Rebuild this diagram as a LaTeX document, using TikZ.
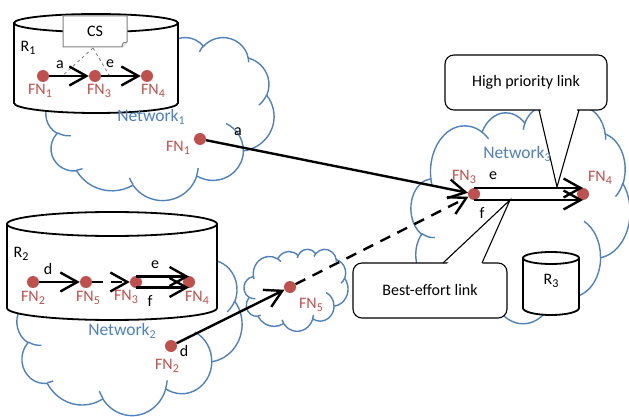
\documentclass[tikz,border=0pt]{standalone}
\usepackage{fontspec}
\setmainfont{Carlito}
\usetikzlibrary{arrows.meta,calc}
\definecolor{fnred}{HTML}{C0504D}
\definecolor{netblue}{HTML}{4F81BD}
% arc of an Office-style cloud: x radius, y radius, visual start angle, sweep
\newcommand\ooarc[4]{\pgfextra{%
  \pgfmathparse{atan2((#1)*sin(#3),(#2)*cos(#3))}\global\let\ooa\pgfmathresult
  \pgfmathparse{atan2((#1)*sin(#3+#4),(#2)*cos(#3+#4))}\global\let\oob\pgfmathresult
  \pgfmathparse{\oob<\ooa ? \oob+360 : \oob}\global\let\oob\pgfmathresult}%
  arc[start angle=\ooa, end angle=\oob, x radius=#1, y radius=#2]}
% #1 name, #2 left, #3 top, #4 width, #5 height
\newcommand\oocloud[5]{%
  \pgfmathsetmacro\oosx{#4/432}\pgfmathsetmacro\oosy{#5/432}%
  \begin{scope}[shift={(#2,#3)}, x=\oosx pt, y=-\oosy pt]
  \draw[netline, fill=white] (39.00,143.70)
    \ooarc{67.53}{91.90}{-190.48748}{123.78053}
    \ooarc{53.33}{72.67}{-144.10238}{89.94523}
    \ooarc{43.65}{59.45}{-145.80792}{99.72302}
    \ooarc{48.57}{65.95}{-130.98607}{117.24173}
    \ooarc{53.33}{72.73}{-78.70888}{109.02692}
    \ooarc{67.75}{92.20}{-46.26725}{130.269}
    \ooarc{57.85}{78.67}{0.62502}{114.03333}
    \ooarc{67.52}{92.15}{22.4516}{115.17255}
    \ooarc{77.20}{105.43}{66.24263}{75.71102}
    \ooarc{43.60}{59.18}{-274.94208}{146.73557}
    \ooarc{43.45}{59.45}{-246.8285}{152.51885} -- cycle;
  \draw[netline] (46.93,261.77) \ooarc{43.45}{59.45}{86.742}{26.4295}
    (69.28,348.99) \ooarc{43.60}{59.18}{73.61047}{11.44747}
    (164.78,390.90) \ooarc{67.52}{92.15}{137.62415}{14.0811}
    (288.27,347.51) \ooarc{67.52}{92.15}{6.45327}{15.99835}
    (341.29,229.54) \ooarc{57.85}{78.67}{-70.29235}{70.91737}
    (417.98,153.54) \ooarc{53.33}{72.73}{30.31803}{27.7515}
    (383.24,54.26) \ooarc{48.57}{65.95}{-13.74433}{14.8589}
    (290.78,39.52) \ooarc{48.57}{65.95}{-149.18145}{18.19537}
    (221.41,47.20) \ooarc{43.65}{59.45}{-163.49427}{17.68635}
    (140.00,51.92) \ooarc{67.53}{91.90}{-66.70695}{12.31935}
    (41.27,157.89) \ooarc{67.53}{91.90}{157.65435}{11.85817};
  \coordinate (#1) at (216,216);
  \end{scope}}
\newcommand\sub[1]{{\fontsize{12}{12}\selectfont\raisebox{-3.5pt}{#1}}}
\begin{document}
\begin{tikzpicture}[x=1pt,y=-1pt,
  every node/.style={font=\fontsize{16}{19}\selectfont},
  netline/.style={draw=netblue, line width=1.4pt},
  dot/.style={circle, fill=fnred, inner sep=0pt, minimum size=12pt},
  fnlab/.style={text=fnred, inner sep=0pt},
  netlab/.style={text=netblue, inner sep=0pt, font=\fontsize{17.5}{19}\selectfont},
  plainlab/.style={inner sep=0pt},
  cylline/.style={line width=1.8pt, fill=white},
  link/.style={line width=2.4pt, -{Straight Barb[length=17pt,width=19pt]}},
  dlink/.style={link, dash pattern=on 11pt off 8pt},
  callbox/.style={draw, line width=1.1pt, fill=white, rounded corners=9pt, inner sep=0pt},
  callptr/.style={line width=1.1pt},
  csbox/.style={draw=gray, line width=1pt, fill=white},
  csline/.style={draw=gray, line width=0.8pt, dashed}
]
\useasboundingbox (0,0) rectangle (629,417);

% clouds
\oocloud{net1}{46}{37}{228}{163}
\oocloud{net2}{17}{238}{225}{177}
\oocloud{net3}{411}{106}{219}{217}
\oocloud{net5}{244}{249}{104}{82}

% cylinder R1
\draw[cylline] (14,23) -- (14,103) arc[start angle=180,end angle=0,x radius=82,y radius=10]
  -- (178,23) arc[start angle=0,end angle=-180,x radius=82,y radius=9] -- cycle;
\draw[line width=1.8pt] (14,23) arc[start angle=180,end angle=0,x radius=82,y radius=9];
% cylinder R2
\draw[cylline] (7,224) -- (7,308) arc[start angle=180,end angle=0,x radius=105,y radius=12]
  -- (217,224) arc[start angle=0,end angle=-180,x radius=105,y radius=12] -- cycle;
\draw[line width=1.8pt] (7,224) arc[start angle=180,end angle=0,x radius=105,y radius=12];
% cylinder R3
\draw[cylline] (523,258) -- (523,308) arc[start angle=180,end angle=0,x radius=28,y radius=7]
  -- (579,258) arc[start angle=0,end angle=-180,x radius=28,y radius=6] -- cycle;
\draw[line width=1.8pt] (523,258) arc[start angle=180,end angle=0,x radius=28,y radius=6];

% CS box
\draw[csbox] (63,16) -- (127,16) -- (127,42) -- (122,47) -- (63,47) -- cycle;
\draw[csbox] (122,47) -- (123,43) -- (127,42);
\node[plainlab] (cs) at (95,31) {CS};
\coordinate (csb) at (93,48);
\coordinate (csl) at (61,77);
\coordinate (csr) at (109,75);
\draw[csline] (csb) -- (csl);
\draw[csline] (csb) -- (csr);

% callouts
\node[callbox, minimum width=162pt, minimum height=55pt] (hp) at (526,82.5) {High priority link};
\fill[white] (540,106) -- (557,187) -- (578,106) -- cycle;
\coordinate (hpa) at (539,110);
\coordinate (hpt) at (557,187);
\coordinate (hpb) at (579,110);
\draw[callptr] (hpa) -- (hpt) -- (hpb);
\node[callbox, minimum width=154pt, minimum height=55pt] (be) at (430,290.5) {Best-effort link};
\fill[white] (444,267) -- (510,200) -- (481,267) -- cycle;
\coordinate (bea) at (443,263);
\coordinate (bet) at (510,200);
\coordinate (beb) at (482,263);
\draw[callptr] (bea) -- (bet) -- (beb);

% dots
\node[dot] (r1fn1) at (43,76) {};
\node[dot] (r1fn3) at (95,76) {};
\node[dot] (r1fn4) at (147,76) {};
\node[dot] (r2fn2) at (33,282) {};
\node[dot] (r2fn5) at (86,282) {};
\node[dot] (r2fn3) at (136,282) {};
\node[dot] (r2fn4) at (189,282) {};
\node[dot] (fn1) at (200,139) {};
\node[dot] (fn2) at (171,346) {};
\node[dot] (fn5) at (290,287) {};
\node[dot] (n3fn3) at (474,194) {};
\node[dot] (n3fn4) at (583,194) {};

% links
\draw[link] (r1fn1) -- (r1fn3);
\draw[link] (r1fn3) -- (r1fn4);
\draw[link] (r2fn2) -- (r2fn5);
\draw[dlink] (r2fn5) -- (r2fn3);
\draw[link] ([yshift=5.5pt]r2fn3.center) -- ([yshift=5.5pt]r2fn4.center);
\draw[link] ([yshift=-5.5pt]r2fn3.center) -- ([yshift=-5.5pt]r2fn4.center);
\draw[link] (fn1) -- (n3fn3);
\draw[link] (fn2) -- (fn5);
\draw[dlink] (fn5) -- (n3fn3);
\draw[link] ([yshift=6pt]n3fn3.center) -- ([yshift=6pt]n3fn4.center);
\draw[link] ([yshift=-6pt]n3fn3.center) -- ([yshift=-6pt]n3fn4.center);

% labels
\node[plainlab] (r1) at (28,48) {R\sub{1}};
\node[plainlab] (r2) at (21,254) {R\sub{2}};
\node[plainlab] (r3) at (551,281) {R\sub{3}};
\node[plainlab] (la1) at (60,65) {a};
\node[plainlab] (le1) at (110,64) {e};
\node[fnlab] (l1) at (40,91) {FN\sub{1}};
\node[fnlab] (l2) at (99,91) {FN\sub{3}};
\node[fnlab] (l3) at (153,91) {FN\sub{4}};
\node[netlab] (nl1) at (151,117) {Network\sub{1}};
\node[fnlab] (l4) at (178,148) {FN\sub{1}};
\node[plainlab] (la2) at (238,132) {a};
\node[plainlab] (ld1) at (48,269) {d};
\node[plainlab] (le2) at (155,265) {e};
\node[plainlab] (lf2) at (150,301) {f};
\node[fnlab] (l5) at (33,298) {FN\sub{2}};
\node[fnlab] (l6) at (88,298) {FN\sub{5}};
\node[fnlab] (l7) at (126,297) {FN\sub{3}};
\node[fnlab] (l8) at (197,298) {FN\sub{4}};
\node[netlab] (nl2) at (122,331) {Network\sub{2}};
\node[plainlab] (ld2) at (184,351) {d};
\node[fnlab] (l9) at (167,366) {FN\sub{2}};
\node[fnlab] (l10) at (311,305) {FN\sub{5}};
\node[netlab] (nl3) at (517,154) {Network\sub{3}};
\node[fnlab] (l11) at (464,177) {FN\sub{3}};
\node[fnlab] (l12) at (600,178) {FN\sub{4}};
\node[plainlab] (le3) at (493,176) {e};
\node[plainlab] (lf3) at (482,213) {f};
\end{tikzpicture}
\end{document}
